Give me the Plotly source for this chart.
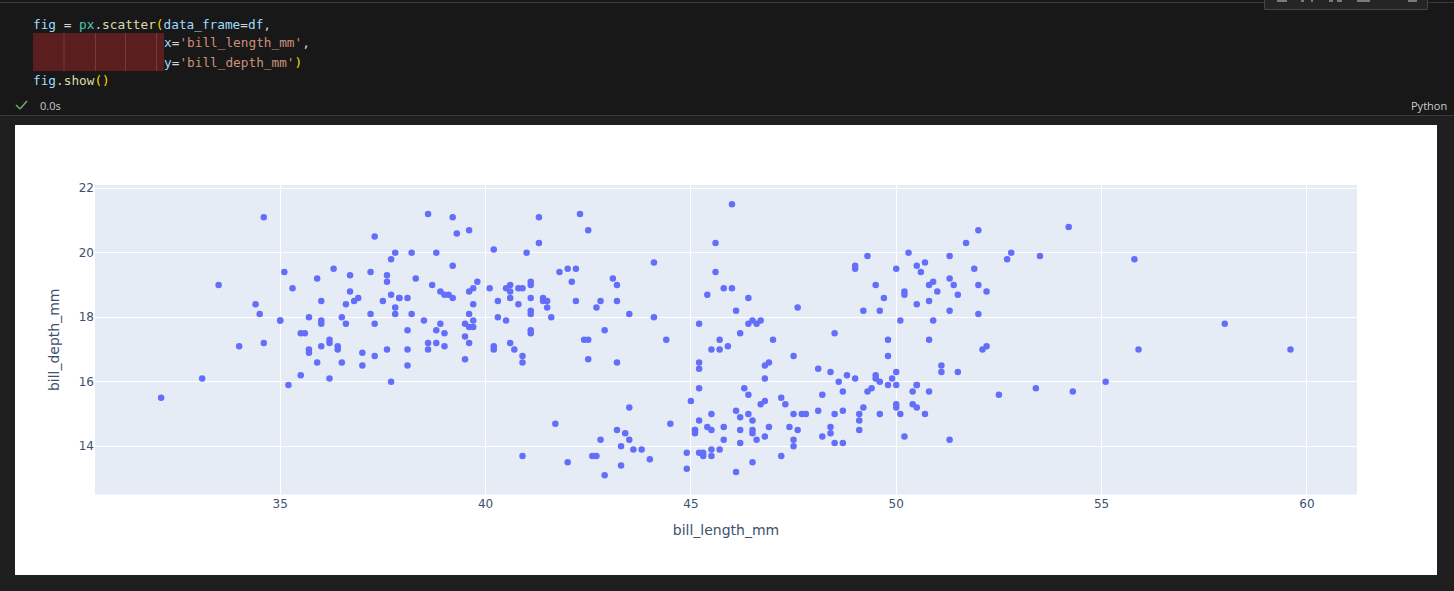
import plotly.graph_objects as go

W, H = 1454, 591

adelie_length = [39.1,39.5,40.3,36.7,39.3,38.9,39.2,41.1,38.6,34.6,36.6,38.7,42.5,34.4,46,37.8,37.7,35.9,38.2,38.8,35.3,40.6,40.5,37.9,40.5,39.5,37.2,39.5,40.9,36.4,39.2,38.8,42.2,37.6,39.8,36.5,40.8,36,44.1,37,39.6,41.1,36,42.3,39.6,40.1,35,42,34.5,41.4,39,40.6,36.5,37.6,35.7,41.3,37.6,41.1,36.4,41.6,35.5,41.1,35.9,41.8,33.5,39.7,39.6,45.8,35.5,42.8,40.9,37.2,36.2,42.1,34.6,42.9,36.7,35.1,37.3,41.3,36.3,36.9,38.3,38.9,35.7,41.1,34,39.6,36.2,40.8,38.1,40.3,33.1,43.2,35,41,37.7,37.8,37.9,39.7,38.6,38.2,38.1,43.2,38.1,45.6,39.7,42.2,39.6,42.7,38.6,37.3,35.7,41.1,36.2,37.7,40.2,41.4,35.2,40.6,38.8,41.5,39,44.1,38.5,43.1,36.8,37.5,38.1,41.1,35.6,40.2,37,39.7,40.2,40.6,32.1,40.7,37.3,39,39.2,36.6,36,37.8,36,41.5]
adelie_depth = [18.7,17.4,18,19.3,20.6,17.8,19.6,17.6,21.2,21.1,17.8,19,20.7,18.4,21.5,18.3,18.7,19.2,18.1,17.2,18.9,18.6,17.9,18.6,18.9,16.7,18.1,17.8,18.9,17,21.1,20,18.5,19.3,19.1,18,18.4,18.5,19.7,16.9,18.8,19,17.9,21.2,17.7,18.9,17.9,19.5,18.1,18.6,17.5,18.8,16.6,19.1,16.9,21.1,17,18.2,17.1,18,16.2,19.1,16.6,19.4,19,18.4,17.2,18.9,17.5,18.5,16.8,19.4,16.1,19.1,17.2,17.6,18.8,19.4,17.8,20.3,19.5,18.6,19.2,18.8,18,18.1,17.1,18.1,17.3,18.9,18.6,18.5,16.1,18.5,17.9,20,16,20,18.6,18.9,17.2,20,17,19,16.5,20.3,17.7,19.5,20.7,18.3,17,20.5,17,18.6,17.2,19.8,17,18.5,15.9,19,17.6,18.3,17.1,18,17.9,19.2,18.5,18.5,17.6,17.5,17.5,20.1,16.5,17.9,17.1,17.2,15.5,17,16.8,18.7,18.6,18.4,17.8,18.1,17.1,18.5]
chinstrap_length = [46.5,50,51.3,45.4,52.7,45.2,46.1,51.3,46,51.3,46.6,51.7,47,52,45.9,50.5,50.3,58,46.4,49.2,42.4,48.5,43.2,50.6,46.7,52,50.5,49.5,46.4,52.8,40.9,54.2,42.5,51,49.7,47.5,47.6,52,46.9,53.5,49,46.2,50.9,45.5,50.9,50.8,50.1,49,51.5,49.8,48.1,51.4,45.7,50.7,42.5,52.2,45.2,49.3,50.2,45.6,51.9,46.8,45.7,55.8,43.5,49.6,50.8,50.2]
chinstrap_depth = [17.9,19.5,19.2,18.7,19.8,17.8,18.2,18.2,18.9,19.9,17.8,20.3,17.3,18.1,17.1,19.6,20,17.8,18.6,18.2,17.3,17.5,16.6,19.4,17.9,19,18.4,19,17.8,20,16.6,20.8,16.7,18.8,18.6,16.8,18.3,20.7,16.6,19.9,19.5,17.5,19.1,17,17.9,18.5,17.9,19.6,18.7,17.3,16.4,19,17.3,19.7,17.3,18.8,16.6,19.9,18.8,19.4,19.5,16.5,17,19.8,18.1,18.2,19,18.7]
gentoo_length = [46.1,50,48.7,50,47.6,46.5,45.4,46.7,43.3,46.8,40.9,49,45.5,48.4,45.8,49.3,42,49.2,46.2,48.7,50.2,45.1,46.5,46.3,42.9,46.1,47.8,48.2,50,47.3,42.8,45.1,59.6,49.1,48.4,42.6,44.4,44,48.7,42.7,49.6,45.3,49.6,50.5,43.6,45.5,50.5,44.9,45.2,46.6,48.5,45.1,50.1,46.5,45,43.8,45.5,43.2,50.4,45.3,46.2,45.7,54.3,45.8,49.8,49.5,43.5,50.7,47.7,46.4,48.2,46.5,46.4,48.6,47.5,51.1,45.2,45.2,49.1,52.5,47.4,50,44.9,50.8,43.4,51.3,47.5,52.1,47.5,52.2,45.5,49.5,44.5,50.8,49.4,46.9,48.4,51.1,48.5,55.9,47.2,49.1,46.8,41.7,53.4,43.3,48.1,50.5,49.8,43.5,51.5,46.2,55.1,48.8,47.2,46.8,50.4,45.2,49.9]
gentoo_depth = [13.2,16.3,14.1,15.2,14.5,13.5,14.6,15.3,13.4,15.4,13.7,16.1,13.7,14.6,14.6,15.7,13.5,15.2,14.5,15.1,14.3,14.5,14.5,15.8,13.1,15.1,15,14.3,15.3,15.3,14.2,14.5,17,14.8,16.3,13.7,17.3,13.6,15.7,13.7,16,13.7,15,15.9,13.9,13.9,15.9,13.3,15.8,14.2,14.1,14.4,15,14.4,15.4,13.9,15,14.5,15.3,13.8,14.9,13.9,15.7,14.2,16.8,16.2,14.2,15,15,15.6,15.6,14.8,15,16,14.2,16.3,13.8,16.4,14.5,15.6,14.6,15.9,13.8,17.3,14.4,14.2,14,17,15,17.1,14.5,16.1,14.7,15.7,15.8,14.6,14.4,16.5,15,17,15.5,15,16.1,14.7,15.8,14,15.1,15.2,15.9,15.2,16.3,14.1,16,16.2,13.7,14.3,15.7,14.8,16.1]

bill_length_mm = adelie_length + chinstrap_length + gentoo_length
bill_depth_mm = adelie_depth + chinstrap_depth + gentoo_depth

BLUE, WHITE_OP, GREY, ORANGE, YELL, GOLD, TEAL = "#9CDCFE", "#D4D4D4", "#CCCCCC", "#CE9178", "#DCDCAA", "#FFD700", "#4EC9B0"

code_lines = [
    (24, 32.2, [("fig", BLUE), (" = ", WHITE_OP), ("px", TEAL), (".", WHITE_OP), ("scatter", YELL), ("(", GOLD),
                ("data_frame", BLUE), ("=", WHITE_OP), ("df", BLUE), (",", WHITE_OP)]),
    (43, 163.2, [("x", BLUE), ("=", WHITE_OP), ("'bill_length_mm'", ORANGE), (",", WHITE_OP)]),
    (62, 163.2, [("y", BLUE), ("=", WHITE_OP), ("'bill_depth_mm'", ORANGE), (")", GOLD)]),
    (80.5, 32.2, [("fig", BLUE), (".", WHITE_OP), ("show", YELL), ("()", GOLD)]),
]


def px_x(x):
    return x / W


def px_y(y):
    return 1 - y / H


def rect(x0, y0, x1, y1, color):
    return dict(type="rect", xref="paper", yref="paper", x0=px_x(x0), x1=px_x(x1), y0=px_y(y0), y1=px_y(y1),
                fillcolor=color, line_width=0, layer="below")


def line(x0, y0, x1, y1, color, width=1):
    return dict(type="line", xref="paper", yref="paper", x0=px_x(x0), x1=px_x(x1), y0=px_y(y0), y1=px_y(y1),
                line=dict(color=color, width=width), layer="above")


shapes = [
    rect(0, 0, W, 115, "#181818"),
    rect(0, 115, W, 125, "#1F1F1F"),
    rect(0, 575, W, H, "#1F1F1F"),
    rect(0, 125, 15, 575, "#1F1F1F"),
    rect(1437, 125, W, 575, "#1F1F1F"),
    line(0, 2.5, 1264, 2.5, "#3A3A3A"),
    line(1428, 2.5, W, 2.5, "#3A3A3A"),
    line(0, 115.5, W, 115.5, "#3A3A3A"),
    rect(33, 33, 164, 71, "#5A1E1E"),
    rect(1264, 0, 1428, 9, "#252526"),
    line(1264.5, 0, 1264.5, 9.5, "#454545"),
    line(1427.5, 0, 1427.5, 9.5, "#454545"),
    line(1264.5, 9.5, 1427.5, 9.5, "#454545"),
    line(16, 105, 20, 109, "#73A96F", 1.5),
    line(20, 109, 27, 101, "#73A96F", 1.5),
]
for vx in (64, 95.5, 125.5, 156.5):
    shapes.append(line(vx, 33, vx, 71, "#7A3A3A"))
for x0, x1 in ((1277, 1287), (1301, 1304), (1311, 1313), (1329, 1333), (1337, 1342), (1357, 1370), (1408, 1417)):
    shapes.append(line(x0, 1, x1, 1, "#D0D0D0"))

annotations = []
for y, x, parts in code_lines:
    html = "".join(f'<span style="color:{c}">{t}</span>' for t, c in parts)
    annotations.append(dict(text=html, xref="paper", yref="paper", x=px_x(x), y=px_y(y), xanchor="left",
                            yanchor="middle", showarrow=False, align="left", borderpad=0,
                            font=dict(family="DejaVu Sans Mono", size=12.75)))
annotations.append(dict(text="0.0s", xref="paper", yref="paper", x=px_x(39), y=px_y(106), xanchor="left",
                        yanchor="middle", showarrow=False, borderpad=0,
                        font=dict(family="Open Sans, sans-serif", size=11, color=GREY)))
annotations.append(dict(text="Python", xref="paper", yref="paper", x=px_x(1448), y=px_y(106), xanchor="right",
                        yanchor="middle", showarrow=False, borderpad=0,
                        font=dict(family="Open Sans, sans-serif", size=11, color=GREY)))

fig = go.Figure(go.Scatter(x=bill_length_mm, y=bill_depth_mm, mode="markers", marker=dict(color="#636EFA", size=6.5)))
fig.update_layout(
    template="plotly",
    width=W, height=H,
    margin=dict(l=0, r=0, t=0, b=0),
    paper_bgcolor="white",
    font=dict(family="DejaVu Sans", color="#3D5070"),
    shapes=shapes,
    annotations=annotations,
    showlegend=False,
    xaxis=dict(domain=[px_x(95), px_x(1357)], range=[30.49, 61.22], title_text="bill_length_mm",
               tickvals=[35, 40, 45, 50, 55, 60], automargin=False,
               tickfont_color="#3D5070", title_font_color="#3D5070"),
    yaxis=dict(domain=[px_y(494.6), px_y(185)], range=[12.5, 22.1], title_text="bill_depth_mm",
               tickvals=[14, 16, 18, 20, 22], automargin=False,
               tickfont_color="#3D5070", title_font_color="#3D5070"),
)
fig.write_html("out.html", post_script="document.body.style.margin='0';document.body.style.overflow='hidden';",
               config=dict(displayModeBar=False))
